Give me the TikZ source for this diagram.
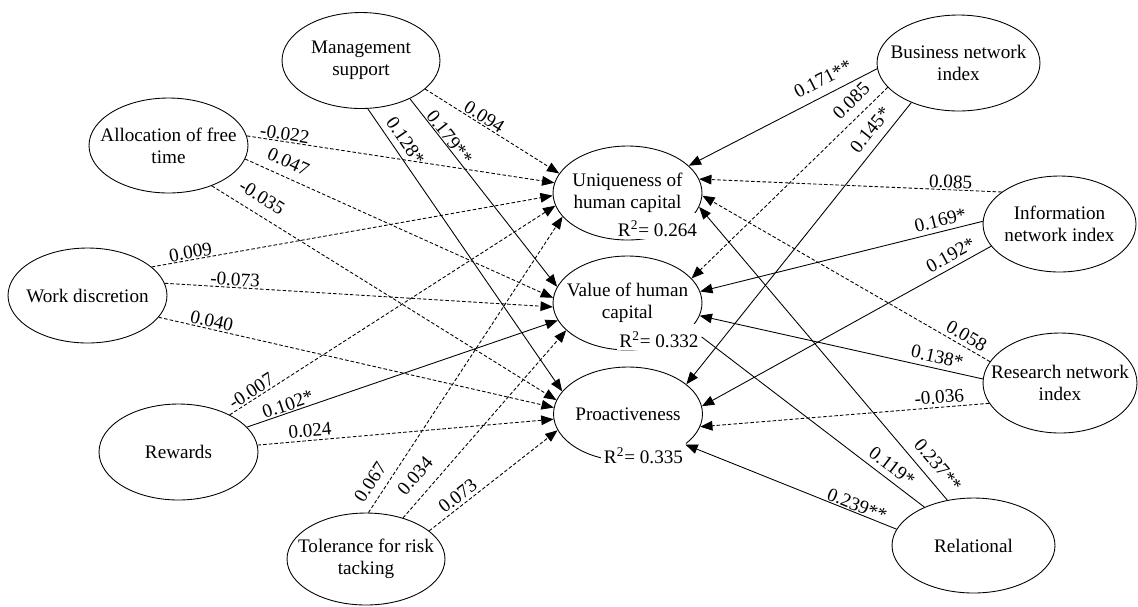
\documentclass[tikz,border=0pt]{standalone}
\usepackage{fontspec}
\setmainfont{Liberation Serif}
\usetikzlibrary{shapes.geometric,arrows.meta}
\begin{document}
\begin{tikzpicture}[x=0.02cm, y=-0.02cm, >={Triangle[length=7pt,width=5.5pt]},
  font=\fontsize{10.9}{12.6}\selectfont, line width=0.5pt,
  latent/.style={ellipse, draw, inner sep=-15pt, align=center},
  sig/.style={->},
  nonsig/.style={->, dash pattern=on 2pt off 1.2pt},
  coef/.style={sloped, above, inner sep=0.5pt},
  rsq/.style={fill=white, anchor=base, inner xsep=1.5pt, inner ysep=0pt, text height=13pt, text depth=1.5pt}]
\useasboundingbox (0,0) rectangle (1138,606);
% antecedents
\node[latent, minimum width=3.16cm, minimum height=1.92cm] (ms) at (361,60.5) {Management\\support};
\node[latent, minimum width=3.18cm, minimum height=1.9cm] (af) at (168.5,145.5) {Allocation of free\\time};
\node[latent, minimum width=3.18cm, minimum height=1.9cm] (wd) at (87.5,295.5) {Work discretion};
\node[latent, minimum width=3.18cm, minimum height=1.92cm] (rw) at (178.5,452) {Rewards};
\node[latent, minimum width=3.16cm, minimum height=1.84cm] (tr) at (366,559) {Tolerance for risk\\tacking};
% outcomes
\node[latent, minimum width=2.98cm, minimum height=1.88cm] (uhc) at (627.5,193) {Uniqueness of\\human capital};
\node[latent, minimum width=2.98cm, minimum height=1.88cm] (vhc) at (627.5,303) {Value of human\\capital};
\node[latent, minimum width=2.98cm, minimum height=1.88cm] (pro) at (628,414) {Proactiveness};
% networks
\node[latent, minimum width=3.26cm, minimum height=1.92cm] (bn) at (958.5,63) {Business network\\index};
\node[latent, minimum width=3.06cm, minimum height=1.92cm] (inf) at (1059.5,224) {Information\\network index};
\node[latent, minimum width=3.08cm, minimum height=2cm] (rn) at (1060,383) {Research network\\index};
\node[latent, minimum width=3.26cm, minimum height=1.9cm] (rel) at (973.5,545.5) {Relational};
% explained variance
\node[rsq] (uhcr) at (657.5,236) {R\textsuperscript{2}= 0.264};
\node[rsq] (vhcr) at (659,347) {R\textsuperscript{2}= 0.332};
\node[rsq] (pror) at (643.5,463) {R\textsuperscript{2}= 0.335};
% paths
\draw[nonsig] (ms.-24.7) -- node[coef, pos=.41, inner ysep=.5pt]{0.094} (uhc.164.9);
\draw[sig] (ms.-38.2) -- node[coef, pos=.23, inner ysep=.3pt]{0.179**} (vhc.167.5);
\draw[sig] (ms.-82.8) -- node[coef, pos=.14, inner ysep=3.3pt]{0.128*} (pro.161.3);
\draw[nonsig] (af.7.5) -- node[coef, pos=.12]{-0.022} (uhc.172.4);
\draw[nonsig] (af.-10.7) -- node[coef, pos=.12, inner ysep=4.8pt]{0.047} (vhc.176);
\draw[nonsig] (af.-43.8) -- node[coef, pos=.12, inner ysep=5.6pt]{-0.035} (pro.169.4);
\draw[nonsig] (wd.24.2) -- node[coef, pos=.1]{0.009} (uhc.182.3);
\draw[nonsig] (wd.9) -- node[coef, pos=.18, inner ysep=.5pt]{-0.073} (vhc.183);
\draw[nonsig] (wd.-17.2) -- node[coef, pos=.13, inner ysep=.7pt]{0.040} (pro.175.4);
\draw[nonsig] (rw.36.8) -- node[coef, pos=.08, inner ysep=.9pt]{-0.007} (uhc.190.9);
\draw[sig] (rw.20.8) -- node[coef, pos=.14, inner ysep=.7pt]{0.102*} (vhc.194.7);
\draw[nonsig] (rw.5.1) -- node[coef, pos=.18, inner ysep=1.8pt]{0.024} (pro.184.6);
\draw[nonsig] (tr.87.5) -- node[coef, pos=.075, inner ysep=4.7pt]{0.067} (uhc.200.3);
\draw[nonsig] (tr.48) -- node[coef, pos=.16, inner ysep=6.6pt]{0.034} (vhc.204.3);
\draw[nonsig] (tr.24) -- node[coef, pos=.27, inner ysep=1.8pt]{0.073} (pro.193.9);
\draw[sig] (bn.184.9) -- node[coef, pos=.25, inner ysep=5pt]{0.171**} (uhc.24.6);
\draw[nonsig] (bn.199.3) -- node[coef, pos=.13, inner ysep=5.1pt]{0.085} (vhc.21.9);
\draw[sig] (bn.220.7) -- node[coef, pos=.13, inner ysep=4.7pt]{0.145*} (pro.27.3);
\draw[nonsig] (inf.151.7) -- node[coef, pos=.17]{0.085} (uhc.11.4);
\draw[sig] (inf.178.5) -- node[coef, pos=.14, inner ysep=2.4pt]{0.169*} (vhc.9.1);
\draw[sig] (inf.198.8) -- node[coef, pos=.12, inner ysep=2.9pt]{0.192*} (pro.6.9);
\draw[nonsig] (rn.163.6) -- node[coef, pos=.1, inner ysep=2.2pt]{0.058} (uhc.-2.3);
\draw[sig] (rn.177) -- node[coef, pos=.17, inner ysep=2.8pt]{0.138*} (vhc.-10.6);
\draw[nonsig] (rn.196.5) -- node[coef, pos=.17, inner ysep=1.8pt]{-0.036} (pro.-10.2);
\draw[sig] (rel.120.2) -- node[coef, pos=.085, inner ysep=4.9pt]{0.237**} (uhc.-11.4);
\draw (rel.142.7) -- node[coef, pos=.18, inner ysep=3.3pt]{0.119*} (vhcr.east);
\draw[sig] (rel.168.8) -- node[coef, pos=.2]{0.239**} (pro.-28.4);
\end{tikzpicture}
\end{document}
